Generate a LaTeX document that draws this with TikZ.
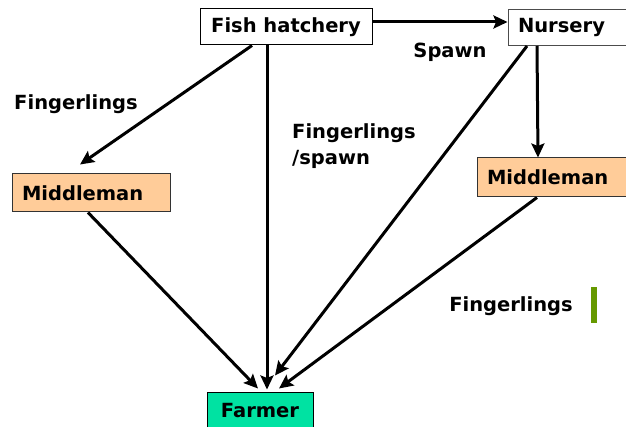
\documentclass[tikz,border=0pt]{standalone}
\usepackage{fontspec}
\setmainfont{DejaVu Sans}
\usetikzlibrary{arrows.meta}
\definecolor{peach}{RGB}{255,204,153}
\definecolor{mint}{RGB}{0,226,162}
\definecolor{leaf}{RGB}{102,153,0}
\begin{document}
\begin{tikzpicture}[x=1pt,y=-1pt,
  lbl/.style={font=\fontsize{19.5}{23}\selectfont\bfseries, inner sep=0pt},
  box/.style={draw=black, line width=1pt, fill=white, inner sep=0pt,
    font=\fontsize{19.5}{23}\selectfont\bfseries},
  flow/.style={line width=3pt, -{Stealth[length=14pt,width=13pt,inset=2.5pt]}}]
  \useasboundingbox (0,0) rectangle (626,427);
  \clip (0,0) rectangle (626,427);

  % stations of the supply chain
  \node[box, minimum width=172pt, minimum height=36pt] (hatch) at (286,27) {Fish hatchery};
  \node[box, draw=black!70, minimum width=132pt, minimum height=36pt,
        text width=112pt, align=left] (nurs) at (574,27.5) {Nursery};
  \node[box, fill=peach, draw=black!80, minimum width=158pt, minimum height=38pt,
        text width=138pt, align=left] (midL) at (91,193) {Middleman};
  \node[box, fill=peach, draw=black!80, minimum width=158pt, minimum height=39pt,
        text width=138pt, align=left] (midR) at (556,177.5) {Middleman};
  \node[box, fill=mint, minimum width=106pt, minimum height=38pt] (farm) at (260,411) {Farmer};

  % flows
  \draw[flow] ([yshift=5pt]hatch.east) -- ([yshift=5.5pt]nurs.west);
  \draw[flow] ([xshift=-34pt]hatch.south) -- ([xshift=-11pt,yshift=9pt]midL.north);
  \draw[flow] ([xshift=-19pt]hatch.south) -- ([xshift=7pt,yshift=2pt]farm.north);
  \draw[flow] ([xshift=-47pt]nurs.south) -- ([xshift=15pt,yshift=16pt]farm.north);
  \draw[flow] ([xshift=-37pt]nurs.south) -- ([xshift=-18pt]midR.north);
  \draw[flow] ([xshift=-19pt]midR.south) -- ([xshift=19pt,yshift=3pt]farm.north);
  \draw[flow] ([xshift=-3pt]midL.south) -- ([xshift=-2pt,yshift=3pt]farm.north);

  % labels
  \node[lbl] (l1) at (76,104) {Fingerlings};
  \node[lbl, anchor=west] (l2) at (292,133) {Fingerlings};
  \node[lbl, anchor=west] (l3) at (292,159) {/spawn};
  \node[lbl] (l4) at (450,52) {Spawn};
  \node[lbl] (l5) at (511,306) {Fingerlings};

  % accent bar
  \fill[leaf] (591,287) rectangle (597,323);
\end{tikzpicture}
\end{document}
